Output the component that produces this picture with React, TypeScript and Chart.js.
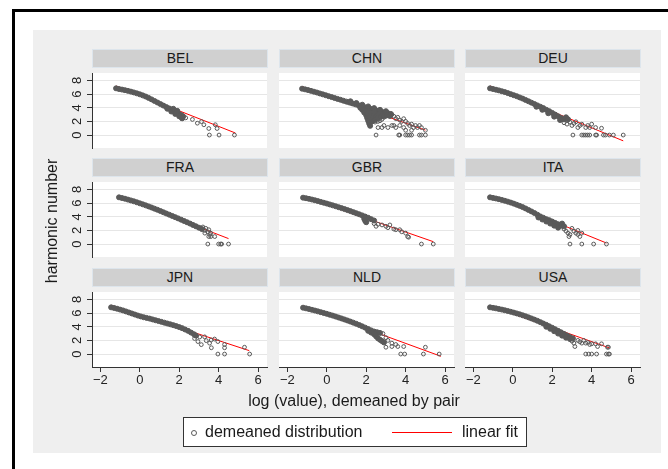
import React, { useEffect, useRef } from "react";
import { Chart, registerables } from "chart.js";
Chart.register(...registerables);

const countries = ["BEL", "CHN", "DEU", "FRA", "GBR", "ITA", "JPN", "NLD", "USA"];
const xTicks = [-2, 0, 2, 4, 6];
const xTickLabels = ["\u22122", "0", "2", "4", "6"];
const yTicks = [0, 2, 4, 6, 8];
const yTickLabels = ["0", "2", "4", "6", "8"];
const legendLabels = ["demeaned distribution", "linear fit"];
const xTitle = "log (value), demeaned by pair";
const yTitle = "harmonic number";

type P = [number, number];

const bandBEL: P[] = [[-1.2,6.85],[-1.05,6.75],[-0.9,6.67],[-0.75,6.58],[-0.6,6.48],[-0.45,6.37],[-0.3,6.25],[-0.15,6.12],[0,5.98],[0.15,5.82],[0.3,5.65],[0.45,5.45],[0.6,5.23],[0.75,5.0],[0.9,4.77],[1.05,4.54],[1.2,4.32],[1.35,4.1],[1.5,3.9],[1.65,3.68],[1.8,3.45],[1.95,3.22],[2.1,2.95],[2.2,2.72],[1.4,3.85],[1.6,3.45],[1.8,3.1],[2.0,2.75],[2.15,2.45],[1.7,3.85],[1.9,3.55]];
const tailBEL: P[] = [[2.12,2.42],[2.33,2.52],[2.67,2.29],[2.92,1.74],[3.13,1.97],[3.25,1.51],[3.5,0.96],[3.53,0],[3.83,1.51],[3.92,0.96],[4.02,0],[4.8,0]];
const fitBEL: P[] = [[-1.2,7.2],[4.85,0.3]];

const bandCHN: P[] = [[-1.25,6.8],[-1.1,6.7],[-0.95,6.6],[-0.8,6.48],[-0.65,6.36],[-0.5,6.24],[-0.35,6.1],[-0.2,5.97],[-0.05,5.84],[0.1,5.7],[0.25,5.57],[0.4,5.43],[0.55,5.3],[0.7,5.17],[0.85,5.03],[1.0,4.9],[1.15,4.77],[1.3,4.64],[1.45,4.5],[1.6,4.37],[1.75,4.23],[1.9,4.1],[2.05,3.98],[2.2,3.86],[2.35,3.74],[2.5,3.62],[2.65,3.5],[2.8,3.4],[2.95,3.3],[3.1,3.2],[3.25,3.1],[1.2,4.95],[1.5,4.7],[1.8,4.45],[2.1,4.2],[2.4,3.95],[2.7,3.7],[3.0,3.5],[1.7,4.0],[1.8,3.7],[1.9,3.3],[2.0,2.9],[2.05,2.5],[2.1,2.1],[2.15,1.7],[2.2,1.35],[2.0,3.5],[2.1,3.1],[2.2,2.7],[2.3,2.4],[2.25,3.3],[2.4,3.0],[2.5,2.7],[2.6,3.0],[2.4,3.4],[2.7,3.2],[2.85,3.0],[2.3,2.0],[2.45,2.2],[2.6,2.5],[2.75,2.7],[2.9,2.8],[3.05,2.9],[3.2,2.8]];
const tailCHN: P[] = [[2.45,1.9],[2.6,2.0],[2.7,2.1],[2.8,2.3],[2.9,2.6],[3.0,2.75],[3.1,2.9],[3.2,2.8],[3.3,3.0],[3.4,2.75],[3.5,2.4],[3.6,2.6],[3.7,2.2],[3.8,2.0],[3.9,2.4],[4.0,2.0],[4.1,1.7],[4.2,1.4],[4.3,1.6],[4.4,1.1],[4.5,1.4],[4.6,1.1],[4.7,1.4],[4.8,1.1],[2.9,1.4],[3.1,1.1],[3.3,1.4],[3.5,1.1],[3.7,1.4],[3.9,1.1],[4.0,0.7],[2.6,1.1],[2.8,1.1],[3.4,1.4],[4.3,0.7],[5.0,0.7],[2.5,0],[3.65,0],[3.7,0],[4.0,0],[4.1,0],[4.2,0],[4.3,0],[4.7,0],[4.8,0],[5.0,0]];
const fitCHN: P[] = [[-1.25,7.1],[5.0,0.72]];

const bandDEU: P[] = [[-1.15,6.85],[-1.0,6.75],[-0.85,6.65],[-0.7,6.55],[-0.55,6.42],[-0.4,6.3],[-0.25,6.15],[-0.1,6.0],[0.05,5.85],[0.2,5.7],[0.35,5.52],[0.5,5.35],[0.65,5.15],[0.8,4.95],[0.95,4.75],[1.1,4.55],[1.25,4.35],[1.4,4.15],[1.55,3.95],[1.7,3.7],[1.85,3.5],[2.0,3.25],[2.15,3.0],[2.3,2.75],[2.45,2.5],[2.6,2.3],[1.2,4.15],[1.5,3.7],[1.8,3.2],[2.1,2.7],[2.4,2.2],[2.7,2.6],[2.8,2.3]];
const tailDEU: P[] = [[2.6,1.8],[2.75,1.6],[2.9,1.9],[3.0,1.4],[3.1,1.7],[3.2,1.95],[3.3,1.1],[3.4,1.4],[3.5,1.6],[3.7,1.1],[3.8,1.4],[3.9,1.1],[4.0,1.6],[4.2,1.1],[4.5,1.0],[3.05,0],[3.5,0],[3.6,0],[3.7,0],[3.8,0],[3.9,0],[4.2,0],[4.25,0],[4.6,0],[4.7,0],[4.9,0],[5.1,0],[5.6,0]];
const fitDEU: P[] = [[-1.15,7.2],[5.6,-0.85]];

const bandFRA: P[] = [[-1.05,6.85],[-0.9,6.75],[-0.75,6.65],[-0.6,6.52],[-0.45,6.4],[-0.3,6.27],[-0.15,6.13],[0,5.98],[0.15,5.83],[0.3,5.68],[0.45,5.52],[0.6,5.36],[0.75,5.19],[0.9,5.02],[1.05,4.84],[1.2,4.66],[1.35,4.48],[1.5,4.3],[1.65,4.12],[1.8,3.94],[1.95,3.76],[2.1,3.57],[2.25,3.38],[2.4,3.19],[2.55,3.0],[2.7,2.8],[2.85,2.6],[3.0,2.4],[3.15,2.2]];
const tailFRA: P[] = [[3.2,2.5],[3.3,2.0],[3.35,2.3],[3.45,1.8],[3.5,2.1],[3.55,1.4],[3.6,1.1],[3.5,1.1],[3.8,1.1],[3.45,0],[4.0,0],[4.1,0],[4.15,0],[4.5,0],[3.6,1.6],[3.3,1.6]];
const fitFRA: P[] = [[-1.05,7.0],[4.5,0.8]];

const bandGBR: P[] = [[-1.2,6.8],[-1.05,6.72],[-0.9,6.63],[-0.75,6.53],[-0.6,6.42],[-0.45,6.3],[-0.3,6.18],[-0.15,6.06],[0,5.94],[0.15,5.81],[0.3,5.68],[0.45,5.55],[0.6,5.41],[0.75,5.27],[0.9,5.13],[1.05,4.98],[1.2,4.83],[1.35,4.68],[1.5,4.52],[1.65,4.36],[1.8,4.2],[1.95,4.03],[2.1,3.85],[2.25,3.65],[2.4,3.45],[1.9,3.7],[1.95,3.4],[2.0,3.2]];
const tailGBR: P[] = [[2.4,3.0],[2.5,2.6],[2.6,2.9],[2.8,2.8],[3.0,2.6],[3.1,2.4],[3.2,2.8],[3.4,2.2],[3.5,2.1],[3.7,2.1],[3.8,1.8],[4.0,1.6],[4.1,1.1],[4.15,1.0],[4.8,0],[5.4,0]];
const fitGBR: P[] = [[-1.2,7.0],[5.4,0.35]];

const bandITA: P[] = [[-1.15,6.85],[-1.0,6.77],[-0.85,6.68],[-0.7,6.58],[-0.55,6.47],[-0.4,6.35],[-0.25,6.22],[-0.1,6.08],[0.05,5.93],[0.2,5.77],[0.35,5.6],[0.5,5.42],[0.65,5.22],[0.8,5.0],[0.95,4.78],[1.1,4.55],[1.25,4.3],[1.4,4.05],[1.55,3.85],[1.7,3.65],[1.85,3.5],[2.0,3.3],[2.15,3.1],[2.3,2.9],[2.45,2.7],[1.3,3.9],[1.5,3.6],[1.7,3.3],[1.9,3.0],[2.1,2.7],[2.3,2.4],[2.5,3.0],[2.6,2.6]];
const tailITA: P[] = [[2.6,2.2],[2.7,1.9],[2.8,1.6],[2.85,1.1],[2.9,1.4],[3.0,2.3],[3.1,1.9],[3.2,1.6],[3.3,1.4],[3.4,1.1],[3.5,1.6],[3.3,2.0],[2.9,0],[3.5,0],[4.1,0],[4.75,0]];
const fitITA: P[] = [[-1.15,7.1],[4.75,0.15]];

const bandJPN: P[] = [[-1.45,6.85],[-1.3,6.76],[-1.15,6.65],[-1.0,6.52],[-0.85,6.4],[-0.7,6.25],[-0.55,6.1],[-0.4,5.95],[-0.25,5.8],[-0.1,5.65],[0.05,5.52],[0.2,5.4],[0.35,5.3],[0.5,5.2],[0.65,5.08],[0.8,4.96],[0.95,4.84],[1.1,4.72],[1.25,4.6],[1.4,4.48],[1.55,4.36],[1.7,4.24],[1.85,4.1],[2.0,3.95],[2.15,3.8],[2.3,3.6],[2.45,3.4],[2.6,3.15],[2.75,2.9],[2.85,2.7]];
const tailJPN: P[] = [[2.78,2.28],[2.95,1.83],[3.04,2.5],[3.12,1.38],[3.29,2.52],[3.37,1.97],[3.54,1.6],[3.62,2.06],[3.63,0.92],[3.79,2.2],[3.96,1.83],[4.3,1.4],[4.3,0.92],[5.31,1.0],[3.96,0],[4.3,0],[5.57,0]];
const fitJPN: P[] = [[-1.45,7.15],[5.55,0.5]];

const bandNLD: P[] = [[-1.2,6.8],[-1.05,6.7],[-0.9,6.6],[-0.75,6.49],[-0.6,6.38],[-0.45,6.26],[-0.3,6.14],[-0.15,6.02],[0,5.9],[0.15,5.77],[0.3,5.64],[0.45,5.5],[0.6,5.36],[0.75,5.22],[0.9,5.07],[1.05,4.92],[1.2,4.76],[1.35,4.6],[1.5,4.43],[1.65,4.25],[1.8,4.06],[1.95,3.87],[2.1,3.67],[2.25,3.47],[2.4,3.3],[2.55,3.2],[2.7,3.1],[2.1,3.4],[2.25,3.15],[2.4,2.9],[2.5,2.6],[2.6,2.3],[2.7,2.1],[2.8,1.9],[2.9,1.7]];
const tailNLD: P[] = [[2.85,3.0],[3.0,2.4],[3.1,2.0],[3.3,1.6],[3.3,1.1],[3.5,1.4],[3.6,1.1],[3.9,1.1],[3.0,1.0],[3.75,0],[3.95,0],[4.9,0],[5.0,1.0],[5.7,0]];
const fitNLD: P[] = [[-1.2,7.06],[5.79,-0.33]];

const bandUSA: P[] = [[-1.15,6.85],[-1.0,6.78],[-0.85,6.7],[-0.7,6.61],[-0.55,6.52],[-0.4,6.42],[-0.25,6.31],[-0.1,6.2],[0.05,6.08],[0.2,5.96],[0.35,5.83],[0.5,5.69],[0.65,5.54],[0.8,5.38],[0.95,5.22],[1.1,5.05],[1.25,4.87],[1.4,4.68],[1.55,4.48],[1.7,4.28],[1.85,4.07],[2.0,3.85],[2.15,3.63],[2.3,3.4],[2.45,3.18],[2.6,2.95],[2.75,2.72],[2.9,2.5],[3.05,2.3],[1.7,4.0],[1.9,3.7],[2.1,3.35],[2.3,3.0],[2.5,2.7],[2.7,2.4],[2.9,2.2]];
const tailUSA: P[] = [[3.0,1.9],[3.1,1.6],[3.15,1.1],[3.3,2.0],[3.4,1.8],[3.5,1.6],[3.6,2.0],[3.7,1.6],[3.8,1.7],[3.9,1.4],[4.0,1.5],[4.2,1.5],[4.3,1.1],[4.5,1.5],[4.8,1.0],[4.85,1.0],[3.7,0],[3.85,0],[4.0,0],[4.25,0],[4.75,0],[4.85,0],[4.9,0]];
const fitUSA: P[] = [[-1.15,7.1],[4.9,0.9]];

const bands = [bandBEL, bandCHN, bandDEU, bandFRA, bandGBR, bandITA, bandJPN, bandNLD, bandUSA];
const tails = [tailBEL, tailCHN, tailDEU, tailFRA, tailGBR, tailITA, tailJPN, tailNLD, tailUSA];
const fits = [fitBEL, fitCHN, fitDEU, fitFRA, fitGBR, fitITA, fitJPN, fitNLD, fitUSA];

const FONT = "'Liberation Sans', Arial, Helvetica, sans-serif";
const COL_LEFT = [92, 279, 465];
const ROW_TOP = [68, 177, 287];
const PW = 176;
const PH = 80;
const AXW = 40;
const AXH = 32;
const RPAD = 4;
const MARK = "#5a5a5a";

const plotBg = {
  id: "plotBg",
  beforeDraw(chart: any) {
    const { ctx, chartArea } = chart;
    ctx.save();
    ctx.fillStyle = "#ffffff";
    ctx.fillRect(chartArea.left, chartArea.top, chartArea.right - chartArea.left, chartArea.bottom - chartArea.top);
    ctx.restore();
  },
};

const yLabels = {
  id: "yLabels",
  afterDraw(chart: any, _args: any, opts: any) {
    if (!opts || !opts.show) return;
    const { ctx, chartArea, scales } = chart;
    ctx.save();
    ctx.fillStyle = "#222";
    ctx.font = `13px ${FONT}`;
    ctx.textAlign = "center";
    ctx.textBaseline = "middle";
    yTicks.forEach((v, i) => {
      const y = scales.y.getPixelForValue(v);
      ctx.save();
      ctx.translate(chartArea.left - 15, y);
      ctx.rotate(-Math.PI / 2);
      ctx.fillText(yTickLabels[i], 0, 0);
      ctx.restore();
    });
    ctx.restore();
  },
};

function Panel({ idx }: { idx: number }) {
  const ref = useRef<HTMLCanvasElement>(null);
  const col = idx % 3;
  const row = Math.floor(idx / 3);
  const isLeft = col === 0;
  const isBottom = row === 2;
  useEffect(() => {
    const toXY = (a: P[]) => a.map(([x, y]) => ({ x, y }));
    const chart = new Chart(ref.current!, {
      type: "scatter",
      data: {
        datasets: [
          {
            data: toXY(tails[idx]),
            pointRadius: 1.9,
            pointBorderWidth: 1,
            pointBorderColor: MARK,
            pointBackgroundColor: "rgba(0,0,0,0)",
          } as any,
          {
            data: toXY(bands[idx]),
            pointRadius: 2.5,
            pointBorderWidth: 1,
            pointBorderColor: MARK,
            pointBackgroundColor: MARK,
          } as any,
          {
            data: toXY(fits[idx]),
            showLine: true,
            borderColor: "#ff0000",
            borderWidth: 1,
            pointRadius: 0,
          } as any,
        ],
      },
      options: {
        animation: false,
        responsive: false,
        devicePixelRatio: 1,
        events: [],
        layout: { padding: { left: 0, right: RPAD, top: 0, bottom: 0 } },
        plugins: { legend: { display: false }, tooltip: { enabled: false }, yLabels: { show: isLeft } },
        scales: {
          x: {
            type: "linear",
            min: -2.42,
            max: 6.45,
            afterFit: (s: any) => { s.height = AXH; },
            afterBuildTicks: (s: any) => { s.ticks = xTicks.map((v) => ({ value: v })); },
            grid: { drawOnChartArea: false, drawTicks: isBottom, tickLength: 5, color: "#333", tickColor: "#333" },
            border: { display: isBottom, color: "#333", width: 1 },
            ticks: {
              display: isBottom,
              padding: 1,
              color: "#222",
              font: { family: FONT, size: 13 },
              maxRotation: 0,
              callback: (_v: any, i: number) => xTickLabels[i],
            },
          },
          y: {
            type: "linear",
            min: -1.9,
            max: 9.1,
            afterFit: (s: any) => { s.width = AXW; },
            afterBuildTicks: (s: any) => { s.ticks = yTicks.map((v) => ({ value: v })); },
            grid: { drawOnChartArea: true, drawTicks: isLeft, tickLength: 5, color: "#e6e6e6", tickColor: "#333", lineWidth: 1 },
            border: { display: isLeft, color: "#333", width: 1 },
            ticks: { display: false },
          },
        },
      } as any,
      plugins: [plotBg, yLabels],
    });
    return () => chart.destroy();
  }, [idx]);
  const left = COL_LEFT[col];
  const top = ROW_TOP[row];
  return (
    <>
      <div
        style={{
          position: "absolute",
          left,
          top: top - 19,
          width: PW,
          height: 19,
          boxSizing: "border-box",
          background: "#d0d0d0",
          border: "1px solid #dde5ec",
          textAlign: "center",
          font: `14px ${FONT}`,
          lineHeight: "17px",
          color: "#1a1a1a",
        }}
      >
        {countries[idx]}
      </div>
      <canvas
        ref={ref}
        width={AXW + PW + RPAD}
        height={PH + AXH}
        style={{ position: "absolute", left: left - AXW, top, width: AXW + PW + RPAD, height: PH + AXH }}
      />
    </>
  );
}

export default function App() {
  return (
    <div style={{ position: "absolute", left: 0, top: 0, width: 668, height: 469, overflow: "hidden", background: "#fff", fontFamily: FONT }}>
      <div style={{ position: "absolute", left: 12, top: 9, width: 656, height: 3, background: "#000" }} />
      <div style={{ position: "absolute", left: 12, top: 9, width: 3, height: 460, background: "#000" }} />
      <div style={{ position: "absolute", left: 33, top: 30, width: 628, height: 423, background: "#efefef" }} />
      {countries.map((_, i) => (
        <Panel key={i} idx={i} />
      ))}
      <div
        style={{
          position: "absolute",
          left: 53 - 100,
          top: 221 - 10,
          width: 200,
          height: 20,
          lineHeight: "20px",
          textAlign: "center",
          transform: "rotate(-90deg)",
          font: `16px ${FONT}`,
          color: "#1a1a1a",
        }}
      >
        {yTitle}
      </div>
      <div
        style={{
          position: "absolute",
          left: 354 - 150,
          top: 392,
          width: 300,
          height: 20,
          lineHeight: "20px",
          textAlign: "center",
          font: `16px ${FONT}`,
          color: "#1a1a1a",
        }}
      >
        {xTitle}
      </div>
      <div
        style={{
          position: "absolute",
          left: 183,
          top: 417,
          width: 344,
          height: 30,
          boxSizing: "border-box",
          background: "#fff",
          border: "1px solid #333",
          font: `16px ${FONT}`,
          color: "#1a1a1a",
        }}
      >
        <div style={{ position: "absolute", left: 7, top: 12, width: 4, height: 4, borderRadius: "50%", border: `1px solid ${MARK}` }} />
        <div style={{ position: "absolute", left: 21, top: 4, lineHeight: "20px" }}>{legendLabels[0]}</div>
        <div style={{ position: "absolute", left: 208, top: 14, width: 60, height: 1, background: "#ff0000" }} />
        <div style={{ position: "absolute", left: 278, top: 4, lineHeight: "20px" }}>{legendLabels[1]}</div>
      </div>
    </div>
  );
}
